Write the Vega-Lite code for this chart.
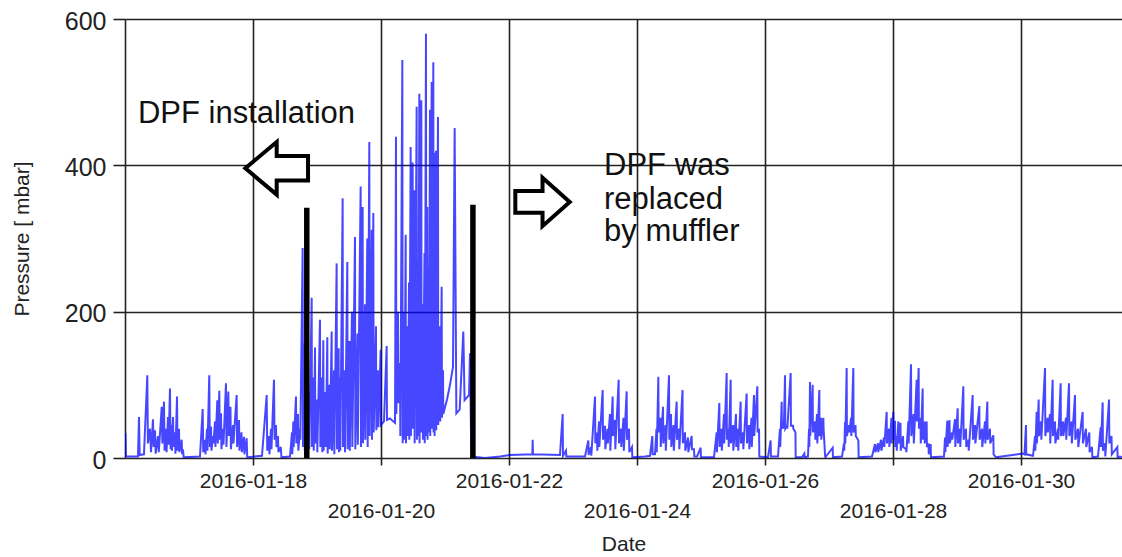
{
"$schema":"https://vega.github.io/schema/vega-lite/v6.json",
"width":997,"height":439,"autosize":"none",
"padding":{"left":125,"top":19,"right":0,"bottom":99},
"background":"white",
"config":{"view":{"stroke":null},"font":"Liberation Sans"},
"datasets":{
"p":[
{"t":"2016-01-16T00:10Z","v":34},{"t":"2016-01-16T00:20Z","v":2},{"t":"2016-01-16T04:52Z","v":2},{"t":"2016-01-16T05:15Z","v":56},{"t":"2016-01-16T05:30Z","v":4},{"t":"2016-01-16T07:07Z","v":5},{"t":"2016-01-16T08:22Z","v":113},{"t":"2016-01-16T08:35Z","v":20},{"t":"2016-01-16T09:22Z","v":40},{"t":"2016-01-16T09:45Z","v":8},{"t":"2016-01-16T10:30Z","v":53},{"t":"2016-01-16T10:45Z","v":15},{"t":"2016-01-16T11:15Z","v":38},{"t":"2016-01-16T11:30Z","v":6},{"t":"2016-01-16T12:22Z","v":30},{"t":"2016-01-16T12:40Z","v":8},{"t":"2016-01-16T13:46Z","v":70},{"t":"2016-01-16T14:00Z","v":20},{"t":"2016-01-16T14:37Z","v":77},{"t":"2016-01-16T14:50Z","v":10},{"t":"2016-01-16T15:22Z","v":40},{"t":"2016-01-16T15:35Z","v":8},{"t":"2016-01-16T16:07Z","v":56},{"t":"2016-01-16T16:20Z","v":18},{"t":"2016-01-16T16:52Z","v":95},{"t":"2016-01-16T17:05Z","v":12},{"t":"2016-01-16T17:25Z","v":45},{"t":"2016-01-16T17:37Z","v":10},{"t":"2016-01-16T18:00Z","v":56},{"t":"2016-01-16T18:12Z","v":15},{"t":"2016-01-16T18:45Z","v":35},{"t":"2016-01-16T18:55Z","v":6},{"t":"2016-01-16T19:30Z","v":84},{"t":"2016-01-16T19:42Z","v":10},{"t":"2016-01-16T20:15Z","v":40},{"t":"2016-01-16T20:25Z","v":8},{"t":"2016-01-16T21:15Z","v":25},{"t":"2016-01-16T21:25Z","v":5},{"t":"2016-01-16T21:45Z","v":12},{"t":"2016-01-16T22:00Z","v":1},
{"t":"2016-01-17T04:07Z","v":2},{"t":"2016-01-17T05:08Z","v":67},{"t":"2016-01-17T05:20Z","v":8},{"t":"2016-01-17T06:00Z","v":25},{"t":"2016-01-17T06:10Z","v":5},{"t":"2016-01-17T06:45Z","v":40},{"t":"2016-01-17T06:55Z","v":10},{"t":"2016-01-17T07:36Z","v":113},{"t":"2016-01-17T07:48Z","v":15},{"t":"2016-01-17T08:15Z","v":43},{"t":"2016-01-17T08:25Z","v":10},{"t":"2016-01-17T09:00Z","v":30},{"t":"2016-01-17T09:10Z","v":20},{"t":"2016-01-17T09:45Z","v":50},{"t":"2016-01-17T09:55Z","v":15},{"t":"2016-01-17T10:37Z","v":79},{"t":"2016-01-17T10:48Z","v":20},{"t":"2016-01-17T11:22Z","v":92},{"t":"2016-01-17T11:32Z","v":25},{"t":"2016-01-17T12:00Z","v":61},{"t":"2016-01-17T12:10Z","v":12},{"t":"2016-01-17T12:45Z","v":40},{"t":"2016-01-17T12:55Z","v":18},{"t":"2016-01-17T13:52Z","v":102},{"t":"2016-01-17T14:02Z","v":15},{"t":"2016-01-17T14:45Z","v":91},{"t":"2016-01-17T14:55Z","v":30},{"t":"2016-01-17T15:33Z","v":70},{"t":"2016-01-17T15:43Z","v":12},{"t":"2016-01-17T16:30Z","v":45},{"t":"2016-01-17T16:40Z","v":20},{"t":"2016-01-17T17:52Z","v":86},{"t":"2016-01-17T18:02Z","v":15},{"t":"2016-01-17T18:45Z","v":52},{"t":"2016-01-17T18:55Z","v":10},{"t":"2016-01-17T19:41Z","v":35},{"t":"2016-01-17T19:50Z","v":8},{"t":"2016-01-17T20:37Z","v":29},{"t":"2016-01-17T20:47Z","v":5},{"t":"2016-01-17T21:37Z","v":27},{"t":"2016-01-17T21:50Z","v":1},
{"t":"2016-01-18T03:22Z","v":3},{"t":"2016-01-18T05:08Z","v":86},{"t":"2016-01-18T05:20Z","v":10},{"t":"2016-01-18T06:00Z","v":30},{"t":"2016-01-18T06:10Z","v":5},{"t":"2016-01-18T06:45Z","v":40},{"t":"2016-01-18T06:55Z","v":12},{"t":"2016-01-18T07:52Z","v":107},{"t":"2016-01-18T08:05Z","v":25},{"t":"2016-01-18T08:37Z","v":45},{"t":"2016-01-18T08:47Z","v":15},{"t":"2016-01-18T09:22Z","v":30},{"t":"2016-01-18T09:32Z","v":8},{"t":"2016-01-18T10:25Z","v":15},{"t":"2016-01-18T10:40Z","v":1},{"t":"2016-01-18T13:52Z","v":2},{"t":"2016-01-18T14:37Z","v":35},{"t":"2016-01-18T14:45Z","v":5},{"t":"2016-01-18T15:07Z","v":50},{"t":"2016-01-18T15:15Z","v":15},{"t":"2016-01-18T16:07Z","v":84},{"t":"2016-01-18T16:15Z","v":20},{"t":"2016-01-18T16:52Z","v":60},{"t":"2016-01-18T17:00Z","v":10},{"t":"2016-01-18T17:37Z","v":40},{"t":"2016-01-18T17:45Z","v":25},{"t":"2016-01-18T18:37Z","v":287},{"t":"2016-01-18T18:45Z","v":15},{"t":"2016-01-18T19:18Z","v":157},{"t":"2016-01-18T19:25Z","v":10},{"t":"2016-01-18T19:52Z","v":120},{"t":"2016-01-18T20:00Z","v":20},{"t":"2016-01-18T21:00Z","v":90},{"t":"2016-01-18T21:07Z","v":12},{"t":"2016-01-18T22:00Z","v":219},{"t":"2016-01-18T22:07Z","v":15},{"t":"2016-01-18T22:40Z","v":110},{"t":"2016-01-18T22:47Z","v":10},{"t":"2016-01-18T23:15Z","v":151},{"t":"2016-01-18T23:22Z","v":20},
{"t":"2016-01-19T00:00Z","v":80},{"t":"2016-01-19T00:07Z","v":8},{"t":"2016-01-19T01:07Z","v":189},{"t":"2016-01-19T01:15Z","v":15},{"t":"2016-01-19T01:52Z","v":110},{"t":"2016-01-19T02:00Z","v":8},{"t":"2016-01-19T02:22Z","v":161},{"t":"2016-01-19T02:30Z","v":10},{"t":"2016-01-19T03:11Z","v":90},{"t":"2016-01-19T03:18Z","v":15},{"t":"2016-01-19T03:52Z","v":165},{"t":"2016-01-19T04:00Z","v":6},{"t":"2016-01-19T04:41Z","v":100},{"t":"2016-01-19T04:48Z","v":12},{"t":"2016-01-19T05:30Z","v":173},{"t":"2016-01-19T05:37Z","v":10},{"t":"2016-01-19T06:22Z","v":120},{"t":"2016-01-19T06:30Z","v":5},{"t":"2016-01-19T07:22Z","v":266},{"t":"2016-01-19T07:30Z","v":12},{"t":"2016-01-19T08:07Z","v":150},{"t":"2016-01-19T08:15Z","v":8},{"t":"2016-01-19T08:37Z","v":110},{"t":"2016-01-19T08:45Z","v":10},{"t":"2016-01-19T09:37Z","v":355},{"t":"2016-01-19T09:45Z","v":15},{"t":"2016-01-19T10:22Z","v":120},{"t":"2016-01-19T10:30Z","v":8},{"t":"2016-01-19T11:22Z","v":268},{"t":"2016-01-19T11:30Z","v":12},{"t":"2016-01-19T12:11Z","v":160},{"t":"2016-01-19T12:18Z","v":10},{"t":"2016-01-19T13:07Z","v":200},{"t":"2016-01-19T13:15Z","v":15},{"t":"2016-01-19T14:15Z","v":302},{"t":"2016-01-19T14:22Z","v":12},{"t":"2016-01-19T15:11Z","v":170},{"t":"2016-01-19T15:18Z","v":18},{"t":"2016-01-19T16:22Z","v":371},{"t":"2016-01-19T16:30Z","v":15},{"t":"2016-01-19T17:07Z","v":343},{"t":"2016-01-19T17:15Z","v":20},{"t":"2016-01-19T18:00Z","v":210},{"t":"2016-01-19T18:07Z","v":25},{"t":"2016-01-19T18:52Z","v":300},{"t":"2016-01-19T19:00Z","v":15},{"t":"2016-01-19T19:37Z","v":432},{"t":"2016-01-19T19:45Z","v":30},{"t":"2016-01-19T20:30Z","v":312},{"t":"2016-01-19T20:37Z","v":25},{"t":"2016-01-19T21:07Z","v":335},{"t":"2016-01-19T21:15Z","v":35},{"t":"2016-01-19T22:07Z","v":180},{"t":"2016-01-19T22:15Z","v":38},{"t":"2016-01-19T22:52Z","v":120},{"t":"2016-01-19T23:00Z","v":42},{"t":"2016-01-19T23:52Z","v":148},{"t":"2016-01-19T23:58Z","v":45},
{"t":"2016-01-20T01:07Z","v":50},{"t":"2016-01-20T02:07Z","v":153},{"t":"2016-01-20T02:15Z","v":52},{"t":"2016-01-20T03:22Z","v":54},{"t":"2016-01-20T05:15Z","v":48},{"t":"2016-01-20T05:37Z","v":439},{"t":"2016-01-20T05:45Z","v":60},{"t":"2016-01-20T06:22Z","v":200},{"t":"2016-01-20T06:30Z","v":75},{"t":"2016-01-20T07:07Z","v":130},{"t":"2016-01-20T07:15Z","v":30},{"t":"2016-01-20T08:00Z","v":544},{"t":"2016-01-20T08:07Z","v":20},{"t":"2016-01-20T08:37Z","v":200},{"t":"2016-01-20T08:45Z","v":25},{"t":"2016-01-20T09:15Z","v":305},{"t":"2016-01-20T09:22Z","v":20},{"t":"2016-01-20T09:56Z","v":180},{"t":"2016-01-20T10:03Z","v":30},{"t":"2016-01-20T10:30Z","v":240},{"t":"2016-01-20T10:37Z","v":25},{"t":"2016-01-20T11:07Z","v":425},{"t":"2016-01-20T11:13Z","v":30},{"t":"2016-01-20T11:52Z","v":404},{"t":"2016-01-20T11:58Z","v":40},{"t":"2016-01-20T12:30Z","v":366},{"t":"2016-01-20T12:37Z","v":20},{"t":"2016-01-20T13:22Z","v":480},{"t":"2016-01-20T13:28Z","v":25},{"t":"2016-01-20T13:52Z","v":250},{"t":"2016-01-20T13:58Z","v":30},{"t":"2016-01-20T14:22Z","v":498},{"t":"2016-01-20T14:28Z","v":20},{"t":"2016-01-20T15:07Z","v":489},{"t":"2016-01-20T15:13Z","v":35},{"t":"2016-01-20T15:37Z","v":210},{"t":"2016-01-20T15:43Z","v":25},{"t":"2016-01-20T16:18Z","v":280},{"t":"2016-01-20T16:24Z","v":20},{"t":"2016-01-20T16:52Z","v":580},{"t":"2016-01-20T16:58Z","v":30},{"t":"2016-01-20T17:22Z","v":343},{"t":"2016-01-20T17:28Z","v":25},{"t":"2016-01-20T17:52Z","v":260},{"t":"2016-01-20T17:58Z","v":35},{"t":"2016-01-20T18:22Z","v":476},{"t":"2016-01-20T18:28Z","v":30},{"t":"2016-01-20T19:00Z","v":514},{"t":"2016-01-20T19:06Z","v":40},{"t":"2016-01-20T19:37Z","v":541},{"t":"2016-01-20T19:43Z","v":35},{"t":"2016-01-20T20:00Z","v":417},{"t":"2016-01-20T20:06Z","v":30},{"t":"2016-01-20T20:37Z","v":420},{"t":"2016-01-20T20:43Z","v":38},{"t":"2016-01-20T21:22Z","v":466},{"t":"2016-01-20T21:28Z","v":45},{"t":"2016-01-20T22:07Z","v":180},{"t":"2016-01-20T22:13Z","v":50},{"t":"2016-01-20T22:45Z","v":234},{"t":"2016-01-20T22:52Z","v":55},{"t":"2016-01-20T23:15Z","v":120},{"t":"2016-01-20T23:22Z","v":60},
{"t":"2016-01-21T00:45Z","v":80},{"t":"2016-01-21T01:52Z","v":100},{"t":"2016-01-21T03:00Z","v":125},{"t":"2016-01-21T03:37Z","v":451},{"t":"2016-01-21T04:15Z","v":61},{"t":"2016-01-21T05:30Z","v":66},{"t":"2016-01-21T06:52Z","v":173},{"t":"2016-01-21T07:20Z","v":79},{"t":"2016-01-21T09:00Z","v":86},{"t":"2016-01-21T09:22Z","v":143},{"t":"2016-01-21T09:35Z","v":80},{"t":"2016-01-21T09:52Z","v":2},{"t":"2016-01-21T15:00Z","v":0},{"t":"2016-01-21T20:37Z","v":2},
{"t":"2016-01-22T00:22Z","v":4},{"t":"2016-01-22T08:45Z","v":5},{"t":"2016-01-22T08:52Z","v":25},{"t":"2016-01-22T09:00Z","v":5},{"t":"2016-01-22T19:07Z","v":4},{"t":"2016-01-22T20:07Z","v":60},{"t":"2016-01-22T20:15Z","v":3},{"t":"2016-01-22T21:22Z","v":10},{"t":"2016-01-22T21:30Z","v":2},
{"t":"2016-01-23T04:30Z","v":2},{"t":"2016-01-23T05:45Z","v":24},{"t":"2016-01-23T05:52Z","v":4},{"t":"2016-01-23T06:45Z","v":15},{"t":"2016-01-23T06:52Z","v":3},{"t":"2016-01-23T08:15Z","v":84},{"t":"2016-01-23T08:22Z","v":20},{"t":"2016-01-23T09:00Z","v":35},{"t":"2016-01-23T09:07Z","v":10},{"t":"2016-01-23T09:45Z","v":50},{"t":"2016-01-23T09:52Z","v":15},{"t":"2016-01-23T11:07Z","v":93},{"t":"2016-01-23T11:15Z","v":25},{"t":"2016-01-23T12:00Z","v":44},{"t":"2016-01-23T12:07Z","v":12},{"t":"2016-01-23T12:56Z","v":40},{"t":"2016-01-23T13:03Z","v":20},{"t":"2016-01-23T13:52Z","v":60},{"t":"2016-01-23T14:00Z","v":10},{"t":"2016-01-23T14:52Z","v":84},{"t":"2016-01-23T15:00Z","v":30},{"t":"2016-01-23T15:45Z","v":52},{"t":"2016-01-23T15:52Z","v":12},{"t":"2016-01-23T17:07Z","v":107},{"t":"2016-01-23T17:15Z","v":20},{"t":"2016-01-23T18:00Z","v":40},{"t":"2016-01-23T18:07Z","v":15},{"t":"2016-01-23T18:56Z","v":55},{"t":"2016-01-23T19:03Z","v":10},{"t":"2016-01-23T20:07Z","v":91},{"t":"2016-01-23T20:15Z","v":25},{"t":"2016-01-23T21:00Z","v":40},{"t":"2016-01-23T21:07Z","v":8},{"t":"2016-01-23T22:07Z","v":15},{"t":"2016-01-23T22:15Z","v":1},
{"t":"2016-01-24T03:00Z","v":2},{"t":"2016-01-24T04:52Z","v":3},{"t":"2016-01-24T05:45Z","v":30},{"t":"2016-01-24T05:52Z","v":5},{"t":"2016-01-24T06:45Z","v":5},{"t":"2016-01-24T07:18Z","v":40},{"t":"2016-01-24T07:24Z","v":8},{"t":"2016-01-24T08:00Z","v":111},{"t":"2016-01-24T08:07Z","v":35},{"t":"2016-01-24T08:48Z","v":55},{"t":"2016-01-24T08:54Z","v":15},{"t":"2016-01-24T09:45Z","v":70},{"t":"2016-01-24T09:52Z","v":20},{"t":"2016-01-24T10:41Z","v":45},{"t":"2016-01-24T10:48Z","v":10},{"t":"2016-01-24T12:00Z","v":113},{"t":"2016-01-24T12:07Z","v":25},{"t":"2016-01-24T12:45Z","v":60},{"t":"2016-01-24T12:52Z","v":15},{"t":"2016-01-24T13:41Z","v":45},{"t":"2016-01-24T13:48Z","v":10},{"t":"2016-01-24T14:52Z","v":77},{"t":"2016-01-24T15:00Z","v":25},{"t":"2016-01-24T15:45Z","v":40},{"t":"2016-01-24T15:52Z","v":12},{"t":"2016-01-24T17:04Z","v":93},{"t":"2016-01-24T17:10Z","v":20},{"t":"2016-01-24T18:00Z","v":35},{"t":"2016-01-24T18:07Z","v":10},{"t":"2016-01-24T19:07Z","v":28},{"t":"2016-01-24T19:15Z","v":8},{"t":"2016-01-24T20:30Z","v":30},{"t":"2016-01-24T20:37Z","v":12},{"t":"2016-01-24T21:22Z","v":12},{"t":"2016-01-24T21:30Z","v":2},{"t":"2016-01-24T22:30Z","v":2},{"t":"2016-01-24T23:52Z","v":14},{"t":"2016-01-24T23:58Z","v":1},
{"t":"2016-01-25T04:52Z","v":1},{"t":"2016-01-25T05:52Z","v":35},{"t":"2016-01-25T05:58Z","v":8},{"t":"2016-01-25T06:52Z","v":75},{"t":"2016-01-25T07:00Z","v":15},{"t":"2016-01-25T07:41Z","v":40},{"t":"2016-01-25T07:48Z","v":10},{"t":"2016-01-25T08:37Z","v":60},{"t":"2016-01-25T08:43Z","v":20},{"t":"2016-01-25T09:37Z","v":116},{"t":"2016-01-25T09:43Z","v":25},{"t":"2016-01-25T10:18Z","v":40},{"t":"2016-01-25T10:24Z","v":15},{"t":"2016-01-25T11:07Z","v":107},{"t":"2016-01-25T11:13Z","v":20},{"t":"2016-01-25T12:00Z","v":45},{"t":"2016-01-25T12:07Z","v":10},{"t":"2016-01-25T13:07Z","v":60},{"t":"2016-01-25T13:13Z","v":15},{"t":"2016-01-25T13:52Z","v":40},{"t":"2016-01-25T13:58Z","v":10},{"t":"2016-01-25T14:52Z","v":77},{"t":"2016-01-25T15:00Z","v":20},{"t":"2016-01-25T15:45Z","v":35},{"t":"2016-01-25T15:52Z","v":12},{"t":"2016-01-25T17:07Z","v":88},{"t":"2016-01-25T17:13Z","v":20},{"t":"2016-01-25T18:00Z","v":45},{"t":"2016-01-25T18:07Z","v":12},{"t":"2016-01-25T18:56Z","v":55},{"t":"2016-01-25T19:03Z","v":15},{"t":"2016-01-25T19:52Z","v":86},{"t":"2016-01-25T19:58Z","v":30},{"t":"2016-01-25T21:07Z","v":98},{"t":"2016-01-25T21:13Z","v":35},{"t":"2016-01-25T21:45Z","v":40},{"t":"2016-01-25T21:52Z","v":2},
{"t":"2016-01-26T01:07Z","v":1},{"t":"2016-01-26T02:07Z","v":24},{"t":"2016-01-26T02:13Z","v":2},{"t":"2016-01-26T04:52Z","v":2},{"t":"2016-01-26T05:37Z","v":40},{"t":"2016-01-26T05:43Z","v":15},{"t":"2016-01-26T06:15Z","v":77},{"t":"2016-01-26T06:22Z","v":40},{"t":"2016-01-26T06:56Z","v":50},{"t":"2016-01-26T07:03Z","v":40},{"t":"2016-01-26T07:30Z","v":113},{"t":"2016-01-26T07:37Z","v":40},{"t":"2016-01-26T08:15Z","v":44},{"t":"2016-01-26T08:22Z","v":40},{"t":"2016-01-26T09:37Z","v":116},{"t":"2016-01-26T09:43Z","v":44},{"t":"2016-01-26T10:30Z","v":44},{"t":"2016-01-26T10:37Z","v":40},{"t":"2016-01-26T11:25Z","v":35},{"t":"2016-01-26T11:30Z","v":1},{"t":"2016-01-26T13:52Z","v":1},{"t":"2016-01-26T14:45Z","v":6},{"t":"2016-01-26T14:52Z","v":1},{"t":"2016-01-26T16:07Z","v":2},{"t":"2016-01-26T16:30Z","v":40},{"t":"2016-01-26T16:37Z","v":15},{"t":"2016-01-26T16:52Z","v":104},{"t":"2016-01-26T16:58Z","v":30},{"t":"2016-01-26T17:52Z","v":100},{"t":"2016-01-26T17:58Z","v":35},{"t":"2016-01-26T18:45Z","v":50},{"t":"2016-01-26T18:52Z","v":25},{"t":"2016-01-26T19:30Z","v":60},{"t":"2016-01-26T19:37Z","v":20},{"t":"2016-01-26T20:22Z","v":93},{"t":"2016-01-26T20:28Z","v":30},{"t":"2016-01-26T21:00Z","v":55},{"t":"2016-01-26T21:07Z","v":25},{"t":"2016-01-26T21:52Z","v":55},{"t":"2016-01-26T21:58Z","v":40},{"t":"2016-01-26T22:30Z","v":5},{"t":"2016-01-26T22:37Z","v":1},
{"t":"2016-01-27T01:22Z","v":14},{"t":"2016-01-27T01:28Z","v":1},{"t":"2016-01-27T04:52Z","v":2},{"t":"2016-01-27T05:37Z","v":20},{"t":"2016-01-27T05:43Z","v":10},{"t":"2016-01-27T06:00Z","v":49},{"t":"2016-01-27T06:07Z","v":20},{"t":"2016-01-27T06:37Z","v":123},{"t":"2016-01-27T06:43Z","v":30},{"t":"2016-01-27T07:30Z","v":45},{"t":"2016-01-27T07:37Z","v":35},{"t":"2016-01-27T08:15Z","v":55},{"t":"2016-01-27T08:22Z","v":30},{"t":"2016-01-27T09:07Z","v":123},{"t":"2016-01-27T09:13Z","v":35},{"t":"2016-01-27T09:56Z","v":45},{"t":"2016-01-27T10:03Z","v":30},{"t":"2016-01-27T11:00Z","v":24},{"t":"2016-01-27T11:07Z","v":1},{"t":"2016-01-27T16:07Z","v":2},{"t":"2016-01-27T17:15Z","v":19},{"t":"2016-01-27T17:22Z","v":8},{"t":"2016-01-27T18:22Z","v":20},{"t":"2016-01-27T18:28Z","v":8},{"t":"2016-01-27T19:30Z","v":25},{"t":"2016-01-27T19:37Z","v":10},{"t":"2016-01-27T20:37Z","v":28},{"t":"2016-01-27T20:43Z","v":15},{"t":"2016-01-27T21:37Z","v":63},{"t":"2016-01-27T21:43Z","v":20},{"t":"2016-01-27T22:30Z","v":40},{"t":"2016-01-27T22:37Z","v":15},{"t":"2016-01-27T23:25Z","v":55},{"t":"2016-01-27T23:30Z","v":20},
{"t":"2016-01-28T00:07Z","v":63},{"t":"2016-01-28T00:13Z","v":25},{"t":"2016-01-28T00:45Z","v":51},{"t":"2016-01-28T00:52Z","v":15},{"t":"2016-01-28T01:18Z","v":30},{"t":"2016-01-28T01:24Z","v":10},{"t":"2016-01-28T02:00Z","v":50},{"t":"2016-01-28T02:07Z","v":20},{"t":"2016-01-28T02:48Z","v":48},{"t":"2016-01-28T02:54Z","v":10},{"t":"2016-01-28T03:45Z","v":30},{"t":"2016-01-28T03:52Z","v":15},{"t":"2016-01-28T04:52Z","v":12},{"t":"2016-01-28T05:00Z","v":8},{"t":"2016-01-28T05:45Z","v":50},{"t":"2016-01-28T05:52Z","v":20},{"t":"2016-01-28T06:45Z","v":128},{"t":"2016-01-28T06:52Z","v":30},{"t":"2016-01-28T07:41Z","v":60},{"t":"2016-01-28T07:48Z","v":20},{"t":"2016-01-28T08:52Z","v":107},{"t":"2016-01-28T08:58Z","v":50},{"t":"2016-01-28T09:37Z","v":123},{"t":"2016-01-28T09:43Z","v":40},{"t":"2016-01-28T10:18Z","v":55},{"t":"2016-01-28T10:24Z","v":20},{"t":"2016-01-28T11:07Z","v":95},{"t":"2016-01-28T11:13Z","v":25},{"t":"2016-01-28T11:48Z","v":50},{"t":"2016-01-28T11:54Z","v":20},{"t":"2016-01-28T12:37Z","v":50},{"t":"2016-01-28T12:43Z","v":15},{"t":"2016-01-28T13:18Z","v":20},{"t":"2016-01-28T13:24Z","v":5},{"t":"2016-01-28T14:07Z","v":19},{"t":"2016-01-28T14:13Z","v":1},{"t":"2016-01-28T19:07Z","v":2},{"t":"2016-01-28T19:30Z","v":28},{"t":"2016-01-28T19:37Z","v":8},{"t":"2016-01-28T20:22Z","v":51},{"t":"2016-01-28T20:28Z","v":15},{"t":"2016-01-28T21:11Z","v":52},{"t":"2016-01-28T21:18Z","v":20},{"t":"2016-01-28T22:07Z","v":35},{"t":"2016-01-28T22:13Z","v":25},{"t":"2016-01-28T23:15Z","v":53},{"t":"2016-01-28T23:22Z","v":15},
{"t":"2016-01-29T00:15Z","v":68},{"t":"2016-01-29T00:22Z","v":20},{"t":"2016-01-29T01:07Z","v":40},{"t":"2016-01-29T01:13Z","v":15},{"t":"2016-01-29T02:22Z","v":98},{"t":"2016-01-29T02:28Z","v":25},{"t":"2016-01-29T03:22Z","v":40},{"t":"2016-01-29T03:28Z","v":15},{"t":"2016-01-29T04:18Z","v":25},{"t":"2016-01-29T04:24Z","v":10},{"t":"2016-01-29T05:52Z","v":86},{"t":"2016-01-29T05:58Z","v":25},{"t":"2016-01-29T06:45Z","v":45},{"t":"2016-01-29T06:52Z","v":20},{"t":"2016-01-29T08:22Z","v":71},{"t":"2016-01-29T08:28Z","v":25},{"t":"2016-01-29T09:22Z","v":40},{"t":"2016-01-29T09:28Z","v":15},{"t":"2016-01-29T10:30Z","v":50},{"t":"2016-01-29T10:37Z","v":20},{"t":"2016-01-29T11:22Z","v":77},{"t":"2016-01-29T11:28Z","v":25},{"t":"2016-01-29T12:22Z","v":40},{"t":"2016-01-29T12:28Z","v":20},{"t":"2016-01-29T13:37Z","v":31},{"t":"2016-01-29T13:43Z","v":5},{"t":"2016-01-29T14:37Z","v":1},
{"t":"2016-01-30T00:45Z","v":6},{"t":"2016-01-30T01:18Z","v":5},{"t":"2016-01-30T01:52Z","v":45},{"t":"2016-01-30T01:58Z","v":5},{"t":"2016-01-30T04:30Z","v":3},{"t":"2016-01-30T05:15Z","v":30},{"t":"2016-01-30T05:22Z","v":10},{"t":"2016-01-30T05:52Z","v":63},{"t":"2016-01-30T05:58Z","v":20},{"t":"2016-01-30T06:37Z","v":80},{"t":"2016-01-30T06:43Z","v":30},{"t":"2016-01-30T07:30Z","v":50},{"t":"2016-01-30T07:37Z","v":25},{"t":"2016-01-30T09:00Z","v":123},{"t":"2016-01-30T09:07Z","v":30},{"t":"2016-01-30T09:56Z","v":55},{"t":"2016-01-30T10:03Z","v":35},{"t":"2016-01-30T10:52Z","v":60},{"t":"2016-01-30T10:58Z","v":20},{"t":"2016-01-30T11:52Z","v":107},{"t":"2016-01-30T11:58Z","v":30},{"t":"2016-01-30T12:45Z","v":50},{"t":"2016-01-30T12:52Z","v":20},{"t":"2016-01-30T13:52Z","v":40},{"t":"2016-01-30T13:58Z","v":25},{"t":"2016-01-30T14:52Z","v":102},{"t":"2016-01-30T14:58Z","v":30},{"t":"2016-01-30T15:45Z","v":50},{"t":"2016-01-30T15:52Z","v":30},{"t":"2016-01-30T16:52Z","v":55},{"t":"2016-01-30T16:58Z","v":25},{"t":"2016-01-30T18:00Z","v":102},{"t":"2016-01-30T18:07Z","v":30},{"t":"2016-01-30T18:56Z","v":50},{"t":"2016-01-30T19:03Z","v":20},{"t":"2016-01-30T20:15Z","v":86},{"t":"2016-01-30T20:22Z","v":25},{"t":"2016-01-30T21:22Z","v":40},{"t":"2016-01-30T21:28Z","v":15},{"t":"2016-01-30T23:07Z","v":63},{"t":"2016-01-30T23:13Z","v":20},
{"t":"2016-01-31T00:22Z","v":40},{"t":"2016-01-31T00:28Z","v":15},{"t":"2016-01-31T01:37Z","v":35},{"t":"2016-01-31T01:43Z","v":8},{"t":"2016-01-31T02:37Z","v":15},{"t":"2016-01-31T02:45Z","v":1},{"t":"2016-01-31T04:52Z","v":2},{"t":"2016-01-31T05:52Z","v":42},{"t":"2016-01-31T05:58Z","v":15},{"t":"2016-01-31T06:37Z","v":76},{"t":"2016-01-31T06:43Z","v":10},{"t":"2016-01-31T07:30Z","v":20},{"t":"2016-01-31T07:37Z","v":2},{"t":"2016-01-31T09:00Z","v":80},{"t":"2016-01-31T09:07Z","v":20},{"t":"2016-01-31T09:56Z","v":30},{"t":"2016-01-31T10:03Z","v":5},{"t":"2016-01-31T12:07Z","v":15},{"t":"2016-01-31T12:13Z","v":1},{"t":"2016-01-31T13:07Z","v":2},{"t":"2016-01-31T13:50Z","v":1}
],
"bars":[{"t":"2016-01-18T20:10Z","v":342},{"t":"2016-01-21T10:28Z","v":346}],
"leftArrow":[{"t":"2016-01-18T08:53Z","v":396}],
"rightArrow":[{"t":"2016-01-22T12:34Z","v":350}],
"notes":[{"t":"2016-01-16T04:52Z","v":458,"label":"DPF installation"},{"t":"2016-01-23T11:38Z","v":387,"label":"DPF was"},{"t":"2016-01-23T11:38Z","v":341,"label":"replaced"},{"t":"2016-01-23T11:38Z","v":296,"label":"by muffler"}]
},
"layer":[
{"data":{"name":"p"},
 "mark":{"type":"line","color":"#0000ff","strokeWidth":2,"opacity":0.72,"clip":true},
 "encoding":{
  "x":{"field":"t","type":"temporal",
   "scale":{"type":"utc","domain":[{"year":2016,"month":1,"date":16,"utc":true},{"year":2016,"month":1,"date":31,"hours":13,"minutes":52,"utc":true}]},
   "axis":{"values":[{"year":2016,"month":1,"date":18,"utc":true},{"year":2016,"month":1,"date":20,"utc":true},{"year":2016,"month":1,"date":22,"utc":true},{"year":2016,"month":1,"date":24,"utc":true},{"year":2016,"month":1,"date":26,"utc":true},{"year":2016,"month":1,"date":28,"utc":true},{"year":2016,"month":1,"date":30,"utc":true}],
    "format":"%Y-%m-%d",
    "labelExpr":"utcdate(datum.value) % 4 == 0 ? ['', datum.label] : datum.label",
    "labelLineHeight":30,"labelFontSize":21,"labelColor":"#222","labelPadding":5,"labelBaseline":"top","labelAlign":"center","labelOverlap":false,"labelFlush":false,
    "tickSize":7,"tickColor":"#222","tickWidth":1.6,
    "grid":true,"gridColor":"#222","gridWidth":1.6,"gridOpacity":1,"domain":false,
    "title":"Date","titleFontSize":21,"titleFontWeight":"normal","titleColor":"#222","titleX":498.5,"titleY":75,"titleBaseline":"top","titleAlign":"center"}},
  "y":{"field":"v","type":"quantitative",
   "scale":{"domain":[0,600],"nice":false},
   "axis":{"values":[0,200,400,600],"labelFontSize":25,"labelColor":"#222","labelPadding":7,"labelOffset":2,
    "tickSize":12,"tickColor":"#222","tickWidth":1.6,
    "grid":true,"gridColor":"#222","gridWidth":1.6,"gridOpacity":1,
    "domain":true,"domainColor":"#222","domainWidth":1.6,
    "title":"Pressure [ mbar]","titleFontSize":21,"titleFontWeight":"normal","titleColor":"#222","titleX":-93,"titleY":219.5,"titleAngle":-90,"titleAlign":"center","titleBaseline":"bottom"}}
 }},
{"data":{"name":"bars"},
 "mark":{"type":"rule","color":"black","strokeWidth":5.5},
 "encoding":{"x":{"field":"t","type":"temporal"},"y":{"field":"v","type":"quantitative"},"y2":{"datum":0}}},
{"data":{"name":"leftArrow"},
 "mark":{"type":"point","filled":true,"fill":"white","stroke":"black","strokeWidth":4,"opacity":1,"fillOpacity":1,"strokeOpacity":1,"size":3931,
  "shape":"M -1 0 L 0 -0.84 L 0 -0.39 L 1 -0.39 L 1 0.39 L 0 0.39 L 0 0.84 Z"},
 "encoding":{"x":{"field":"t","type":"temporal"},"y":{"field":"v","type":"quantitative"}}},
{"data":{"name":"rightArrow"},
 "mark":{"type":"point","filled":true,"fill":"white","stroke":"black","strokeWidth":4,"opacity":1,"fillOpacity":1,"strokeOpacity":1,"size":2959,
  "shape":"M 1 0 L 0 -0.89 L 0 -0.4 L -1 -0.4 L -1 0.4 L 0 0.4 L 0 0.89 Z"},
 "encoding":{"x":{"field":"t","type":"temporal"},"y":{"field":"v","type":"quantitative"}}},
{"data":{"name":"notes"},
 "mark":{"type":"text","align":"left","baseline":"alphabetic","fontSize":31,"color":"#111"},
 "encoding":{"x":{"field":"t","type":"temporal"},"y":{"field":"v","type":"quantitative"},"text":{"field":"label"}}}
]
}
